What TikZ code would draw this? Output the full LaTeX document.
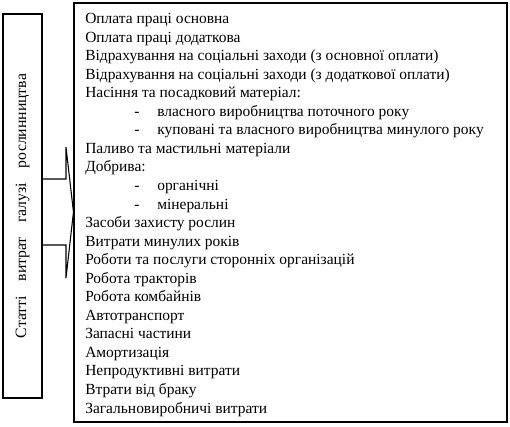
\documentclass[tikz,border=0pt]{standalone}
\usepackage{fontspec}
\setmainfont{Liberation Serif}
\begin{document}
\begin{tikzpicture}[x=0.75pt,y=-0.75pt,
  boxstyle/.style={draw, line width=0.8pt, inner sep=0pt},
  rowtext/.style={anchor=base west, inner sep=0pt, font=\fontsize{11.6pt}{14pt}\selectfont},
  linkline/.style={line width=0.8pt}]
\useasboundingbox (0,0) rectangle (510,426);
\node[boxstyle, minimum width=29.25pt, minimum height=288pt] (left) at (22.5,206) {};
\node[boxstyle, minimum width=324.75pt, minimum height=314.25pt] (right) at (290.5,212.5) {};
\node[rotate=90, inner sep=0pt, font=\fontsize{11.8pt}{14pt}\selectfont] (title) at (left.center)
  {Статті\hspace{8pt} витрат\hspace{8pt} галузі\hspace{8pt} рослинництва};
\foreach \i/\t in {1/Оплата праці основна,
  2/Оплата праці додаткова,
  3/Відрахування на соціальні заходи (з основної оплати),
  4/Відрахування на соціальні заходи (з додаткової оплати),
  5/Насіння та посадковий матеріал:,
  8/Паливо та мастильні матеріали,
  9/Добрива:,
  12/Засоби захисту рослин,
  13/Витрати минулих років,
  14/Роботи та послуги сторонніх організацій,
  15/Робота тракторів,
  16/Робота комбайнів,
  17/Автотранспорт,
  18/Запасні частини,
  19/Амортизація,
  20/Непродуктивні витрати,
  21/Втрати від браку,
  22/Загальновиробничі витрати}
  \node[rowtext] (row\i) at (85,{23.5+(\i-1)*18.55}) {\t};
\foreach \i/\t in {6/власного виробництва поточного року,
  7/куповані та власного виробництва минулого року,
  10/органічні,
  11/мінеральні}{
  \node[rowtext] (dash\i) at (134,{23.5+(\i-1)*18.55}) {-};
  \node[rowtext] (row\i) at (157,{23.5+(\i-1)*18.55}) {\t};
}
\coordinate (tip) at (right.west |- 0,212);
\coordinate (ua) at (66,179);
\coordinate (ub) at (66,147);
\coordinate (la) at (66,245);
\coordinate (lb) at (66,278);
\draw[linkline] (left.east |- ua) -- (ua) -- (ub) -- (tip) -- (lb) -- (la) -- (left.east |- la);
\end{tikzpicture}
\end{document}
